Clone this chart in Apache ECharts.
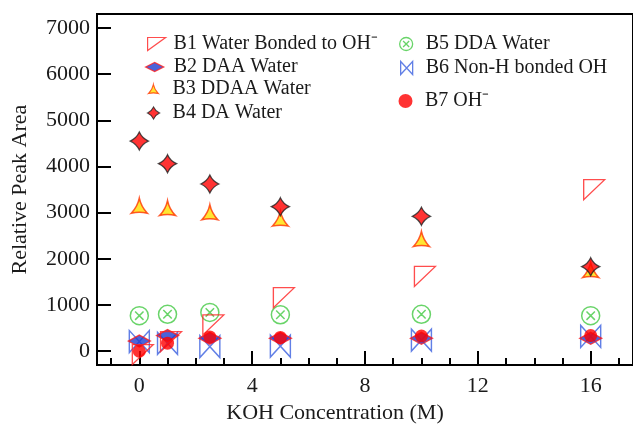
<!DOCTYPE html>
<html>
<head>
<meta charset="utf-8">
<script src="https://cdn.jsdelivr.net/npm/echarts@6.0.0/dist/echarts.min.js"></script>
<style>
html,body{margin:0;padding:0;background:#fff;}
#chart{width:633px;height:429px;}
</style>
</head>
<body>
<div id="chart"></div>
<script>
// ---- data ----
const concentrations = [0, 1, 2.5, 5, 10, 16];
const b1Water_BondedOH = [0, 280, 640, 1230, 1690, 3570];
const b2DAA = [220, 340, 280, 280, 280, 280];
const b3DDAA = [3150, 3100, 3010, 2870, 2430, 1760];
const b4DA = [4550, 4060, 3620, 3130, 2920, 1830];
const b5DDA = [770, 800, 840, 790, 800, 770];
const b6NonH = [210, 170, 100, 110, 240, 320];
const b7OH = [0, 175, 310, 300, 330, 340];
const seriesNames = ['B1 Water Bonded to OH\u207B', 'B2 DAA Water', 'B3 DDAA Water', 'B4 DA Water', 'B5 DDA Water', 'B6 Non-H bonded OH', 'B7 OH\u207B'];
const yTickValues = [0, 1000, 2000, 3000, 4000, 5000, 6000, 7000];
const xMajorTicks = [0, 4, 8, 12, 16];
const xMinorTicks = [-1, 0, 1, 2, 3, 4, 5, 6, 7, 8, 9, 10, 11, 12, 13, 14, 15, 16, 17];

const pts = arr => concentrations.map((x, i) => [x, arr[i]]);
const FONT = 'Liberation Serif';
const TXT = '#1a1a1a';
const plain = v => String(v);

const SYM = {
  b1: 'path://M0 0 L21 0 L0 20 Z',
  b2: 'path://M0 6 L11 0 L22 6 L11 12 Z',
  b3: 'path://M8 0 Q9.8 8.5 16 15 Q8 13 0 15 Q6.2 8.5 8 0 Z',
  b4: 'path://M9 0 Q11.8 6.2 18 9 Q11.8 11.8 9 18 Q6.2 11.8 0 9 Q6.2 6.2 9 0 Z',
  b5: 'path://M0.5 9.5 A9 9 0 1 0 18.5 9.5 A9 9 0 1 0 0.5 9.5 Z M5.3 5.3 L13.7 13.7 M13.7 5.3 L5.3 13.7',
  b6: 'path://M0 0 L0 22 L20 0 L20 22 Z'
};

function mkLegend(name, icon, left, cy, w, h, pad, style) {
  return {
    show: true, orient: 'vertical', left: left, top: cy - 10, padding: 0,
    itemWidth: w, itemHeight: h, itemGap: 0, selectedMode: false,
    data: [{ name: name, icon: icon }],
    textStyle: { fontFamily: FONT, fontSize: 20, color: TXT, padding: [0, 0, 0, pad] },
    itemStyle: style
  };
}

const option = {
  animation: false,
  backgroundColor: '#fff',
  grid: { left: 97, right: -2, top: 14, bottom: 57, show: true, borderColor: '#000', borderWidth: 2, backgroundColor: 'transparent' },
  legend: [
    mkLegend(seriesNames[0], 'path://M0 0 L18 0 L0 13 Z', 147, 44, 18, 13, 3, { borderWidth: 1.2 }),
    mkLegend(seriesNames[1], 'path://M0 4.5 L9 0 L18 4.5 L9 9 Z', 145, 67, 18, 9, 5, { borderWidth: 1.3 }),
    mkLegend(seriesNames[2], SYM.b3, 148, 89, 12, 9, 8, { borderWidth: 1.2 }),
    mkLegend(seriesNames[3], SYM.b4, 147, 113, 14, 12, 7, { borderWidth: 1.1 }),
    mkLegend(seriesNames[4], SYM.b5, 399, 44, 13, 13, 8, { borderWidth: 1.3 }),
    mkLegend(seriesNames[5], 'path://M0 0 L0 13 L12 0 L12 13 Z', 400, 68, 12, 13, 8, { borderWidth: 1.3 }),
    mkLegend(seriesNames[6], 'circle', 398.5, 101, 14, 14, 7.5, { borderWidth: 0 })
  ],
  xAxis: [
    {
      type: 'value', min: -1.5, max: 17.5, position: 'bottom',
      axisLine: { show: false, onZero: false },
      splitLine: { show: false },
      axisTick: { show: true, inside: true, length: 14, customValues: xMajorTicks, lineStyle: { color: '#000', width: 2 } },
      axisLabel: { show: true, customValues: xMajorTicks, formatter: plain, margin: 10, fontFamily: FONT, fontSize: 22, color: TXT },
      name: 'KOH Concentration (M)', nameLocation: 'middle', nameGap: 33,
      nameTextStyle: { fontFamily: FONT, fontSize: 22, color: TXT, padding: [0, 60, 0, 0] }
    },
    {
      type: 'value', min: -1.5, max: 17.5, position: 'bottom',
      axisLine: { show: false, onZero: false },
      splitLine: { show: false },
      axisTick: { show: true, inside: true, length: 7, customValues: xMinorTicks, lineStyle: { color: '#000', width: 2 } },
      axisLabel: { show: false }
    }
  ],
  yAxis: {
    type: 'value', min: -300, max: 7300, position: 'left',
    axisLine: { show: false, onZero: false },
    splitLine: { show: false },
    axisTick: { show: true, inside: true, length: 14, customValues: yTickValues, lineStyle: { color: '#000', width: 2 } },
    axisLabel: { show: true, customValues: yTickValues, formatter: plain, margin: 7, fontFamily: FONT, fontSize: 22, color: TXT },
    name: 'Relative Peak Area', nameLocation: 'middle', nameGap: 66, nameRotate: 90,
    nameTextStyle: { fontFamily: FONT, fontSize: 22, color: TXT }
  },
  series: [
    { name: seriesNames[5], type: 'scatter', clip: false, data: pts(b6NonH), symbol: SYM.b6, symbolSize: [20, 22],
      itemStyle: { color: 'rgba(0,0,0,0)', borderColor: '#3a5fe0', borderWidth: 1.5 } },
    { name: seriesNames[4], type: 'scatter', clip: false, data: pts(b5DDA), symbol: SYM.b5, symbolSize: 18,
      itemStyle: { color: 'rgba(0,0,0,0)', borderColor: '#44c944', borderWidth: 1.5 } },
    { name: seriesNames[1], type: 'scatter', clip: false, data: pts(b2DAA), symbol: SYM.b2, symbolSize: [22, 12],
      itemStyle: { color: '#1e3cd0', borderColor: '#ff1a1a', borderWidth: 1.5 } },
    { name: seriesNames[0], type: 'scatter', clip: false, data: pts(b1Water_BondedOH), symbol: SYM.b1, symbolSize: [21, 20], symbolOffset: [3.5, 3.3],
      itemStyle: { color: 'rgba(0,0,0,0)', borderColor: '#ff2020', borderWidth: 1.3 } },
    { name: seriesNames[2], type: 'scatter', clip: false, data: pts(b3DDAA), symbol: SYM.b3, symbolSize: [16, 15],
      itemStyle: { color: '#ffe000', borderColor: '#ff3300', borderWidth: 1.5 } },
    { name: seriesNames[3], type: 'scatter', clip: false, data: pts(b4DA), symbol: SYM.b4, symbolSize: 18,
      itemStyle: { color: '#ff0000', borderColor: '#222', borderWidth: 1.3 } },
    { name: seriesNames[6], type: 'scatter', clip: false, data: pts(b7OH), symbol: 'circle', symbolSize: 13,
      itemStyle: { color: '#ff0000' } }
  ]
};

const chart = echarts.init(document.getElementById('chart'), null, { renderer: 'canvas' });
chart.setOption(option);
</script>
</body>
</html>
